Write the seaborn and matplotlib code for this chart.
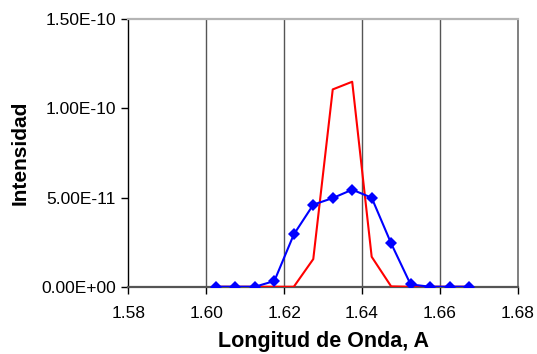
import matplotlib
matplotlib.use("Agg")
import matplotlib.pyplot as plt
import seaborn as sns
import pandas as pd
from matplotlib.ticker import FuncFormatter

sns.set_theme(style="white")
plt.rcParams['font.family'] = ['Liberation Sans', 'DejaVu Sans']

wavelength = [1.6025, 1.6075, 1.6125, 1.6175, 1.6225, 1.6275, 1.6325,
              1.6375, 1.6425, 1.6475, 1.6525, 1.6575, 1.6625, 1.6675]
blue_vals = [0.0, 0.0, 0.0, 3.2e-12, 2.93e-11, 4.6e-11, 4.97e-11,
             5.44e-11, 4.99e-11, 2.43e-11, 1.3e-12, 0.0, 0.0, 0.0]
red_vals = [0.0, 0.0, 0.0, 0.0, 0.0, 1.55e-11, 1.106e-10,
            1.149e-10, 1.68e-11, 2e-13, 0.0, 0.0, 0.0, 0.0]
x_ticks = [1.58, 1.60, 1.62, 1.64, 1.66, 1.68]
y_ticks = [0.0, 5e-11, 1e-10, 1.5e-10]

df = pd.DataFrame({"x": wavelength, "blue": blue_vals, "red": red_vals})

fig = plt.figure(figsize=(5.37, 3.54), dpi=100)
ax = fig.add_axes([0.239, 0.190, 0.725, 0.756])

# vertical gridlines
for xt in x_ticks[1:]:
    ax.axvline(xt, color="#555555", lw=1.0, zorder=0)

sns.lineplot(data=df, x="x", y="red", ax=ax, color="#ff0000", lw=1.5,
             zorder=3, estimator=None, sort=False)
sns.lineplot(data=df, x="x", y="blue", ax=ax, color="#0000ff", lw=1.5,
             marker="D", markersize=6, markeredgewidth=0,
             zorder=4, estimator=None, sort=False)

ax.set_xlim(1.58, 1.68)
ax.set_ylim(0, 1.5e-10)
ax.set_xticks(x_ticks)
ax.set_yticks(y_ticks)
ax.xaxis.set_major_formatter(FuncFormatter(lambda v, p: f"{v:.2f}"))

def sci(v, p):
    if v == 0:
        return "0.00E+00"
    s = f"{v:.2E}"
    mant, exp = s.split("E")
    sign = exp[0]
    e = int(exp[1:])
    return f"{mant}E{sign}{e:02d}"

ax.yaxis.set_major_formatter(FuncFormatter(sci))

for side in ["top", "right", "left", "bottom"]:
    ax.spines[side].set_visible(True)
ax.spines["top"].set_color("#b4b4b4")
ax.spines["top"].set_linewidth(1.6)
ax.spines["right"].set_color("#808080")
ax.spines["right"].set_linewidth(1.4)
ax.spines["left"].set_color("#000000")
ax.spines["left"].set_linewidth(1.0)
ax.spines["bottom"].set_color("#555555")
ax.spines["bottom"].set_linewidth(1.6)

ax.tick_params(axis="both", which="major", direction="out", length=5,
               width=1, color="#000000", labelsize=12.5, labelcolor="#000000",
               bottom=True, left=True, pad=4)
ax.tick_params(axis="x", pad=9)

ax.set_xlabel("Longitud de Onda, A", fontsize=15.5, fontweight="bold",
              color="#000000", labelpad=7)
ax.set_ylabel("Intensidad", fontsize=15, fontweight="bold",
              color="#000000", labelpad=8)

fig.savefig("out.png", dpi=100)
